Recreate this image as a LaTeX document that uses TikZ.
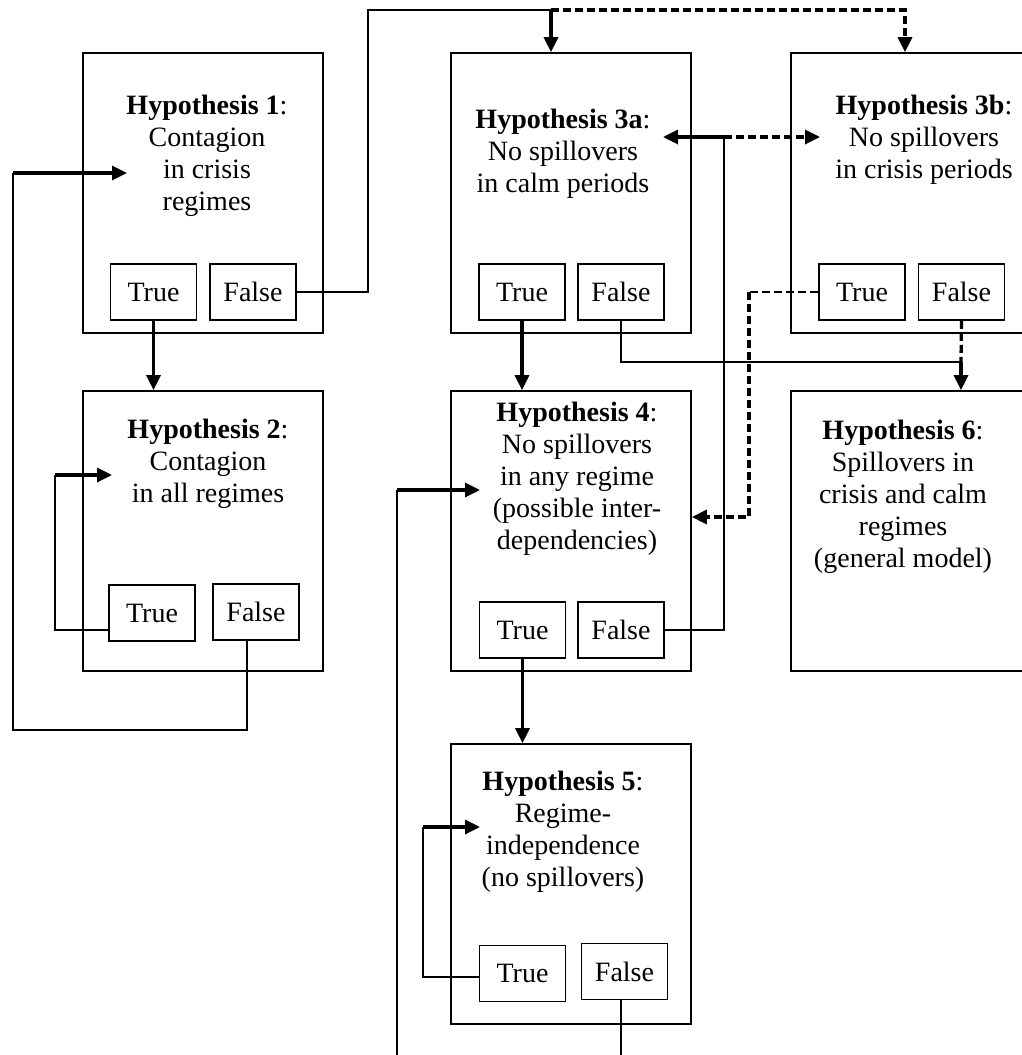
\documentclass[tikz,border=0pt]{standalone}
\usepackage{fontspec}
\setmainfont{Liberation Serif}
\usetikzlibrary{arrows.meta}

\tikzset{
  hyp/.style={draw, line width=1.7pt, minimum width=240pt, minimum height=280pt, inner sep=0pt},
  tf/.style={draw, line width=1.7pt, minimum width=86pt, minimum height=56pt, inner sep=0pt},
  txt/.style={align=center, inner sep=0pt},
  conn/.style={line width=1.6pt},
  heavy/.style={line width=3.3pt},
  dashline/.style={dash pattern=on 8pt off 4pt},
  arr/.style={-{Triangle[length=15pt,width=14pt]}}
}

\begin{document}
\begin{tikzpicture}[x=1pt, y=-1pt, font=\fontsize{28}{32}\selectfont]
	\useasboundingbox (0,0) rectangle (1022,1055);
	\clip (0,0) rectangle (1022,1055);
	\foreach \n/\x/\y in {h1/203/193, h2/203/531, h3a/571/193, h3b/911/193, h4/571/531, h6/911/531, h5/571/884}
	{
	\node[hyp] (\n) at (\x,\y) {};
	}
	\foreach \n/\x/\y/\t in {tr1/153.5/292/True, fa1/253/292/False, tr2/152/613/True, fa2/256/612/False,
	  tr3a/522/292/True, fa3a/621/292/False, tr3b/862/292/True, fa3b/961.5/292/False,
	  tr4/522.5/630/True, fa4/621/630/False, tr5/522.5/973.5/True, fa5/624.5/971.5/False}
	{
	\node[tf] (\n) at (\x,\y) {\t};
	}
	\node[txt] (x1) at (207,156) {\textbf{Hypothesis 1}:\\Contagion\\in crisis\\regimes};
	\node[txt] (x2) at (208,464) {\textbf{Hypothesis 2}:\\Contagion\\in all regimes};
	\node[txt] (x3a) at (563,154) {\textbf{Hypothesis 3a}:\\No spillovers\\in calm periods};
	\node[txt] (x3b) at (924,140) {\textbf{Hypothesis 3b}:\\No spillovers\\in crisis periods};
	\node[txt] (x4) at (577,479) {\textbf{Hypothesis 4}:\\No spillovers\\in any regime\\(possible inter-\\dependencies)};
	\node[txt] (x6) at (903,497) {\textbf{Hypothesis 6}:\\Spillovers in\\crisis and calm\\regimes\\(general model)};
	\node[txt] (x5) at (563,832) {\textbf{Hypothesis 5}:\\Regime-\\independence\\(no spillovers)};

	\coordinate (top1) at (368,10);
	\coordinate (top2) at (551,10);
	\coordinate (in1) at (127,173);
	\coordinate (b1) at (13,730);
	\coordinate (l2) at (55,475);
	\coordinate (in2) at (112,475);
	\coordinate (k) at (724,137);
	\coordinate (in3a) at (663,137);
	\coordinate (in3b) at (820,137);
	\coordinate (d1) at (749,292);
	\coordinate (j6) at (961,362);
	\coordinate (s4) at (397,1070);
	\coordinate (c4) at (397,490);
	\coordinate (in4) at (480,490);
	\coordinate (l5) at (423,827);
	\coordinate (in5) at (480,827);
	\coordinate (e5) at (621,1070);

	\draw[conn] (fa1.east) -| (top1) -- (top2);
	\draw[heavy,arr] (top2) -- (top2 |- h3a.north);
	\draw[heavy,dashline,arr] (top2) -| ([xshift=-6pt]h3b.north);
	\draw[heavy,arr] (tr1.south) -- (tr1.south |- h2.north);
	\draw[conn] ([yshift=-17pt]tr2.west) -| (l2);
	\draw[heavy,arr] (l2) -- (in2);
	\draw[conn] ([xshift=-9pt]fa2.south) |- (b1) |- (in1 -| b1);
	\draw[heavy,arr] (in1 -| b1) -- (in1);
	\draw[heavy,arr] (tr3a.south) -- (tr3a.south |- h4.north);
	\draw[conn] (fa3a.south) |- (j6);
	\draw[heavy,dashline] (fa3b.south) -- (j6);
	\draw[heavy,arr] (j6) -- (j6 |- h6.north);
	\draw[conn] (fa4.east) -| (k);
	\draw[heavy,arr] (k) -- (in3a);
	\draw[heavy,dashline,arr] (k) -- (in3b);
	\draw[conn,dashline] (tr3b.west) -- (d1);
	\draw[heavy,dashline,arr] (d1) |- ([yshift=14pt]h4.east);
	\draw[heavy,arr] (tr4.south) -- (tr4.south |- h5.north);
	\draw[conn] (s4) -- (c4);
	\draw[heavy,arr] (c4) -- (in4);
	\draw[conn] ([yshift=-3.5pt]tr5.west) -| (l5);
	\draw[heavy,arr] (l5) -- (in5);
	\draw[conn] ([xshift=-3.5pt]fa5.south) -- (e5);
\end{tikzpicture}
\end{document}
